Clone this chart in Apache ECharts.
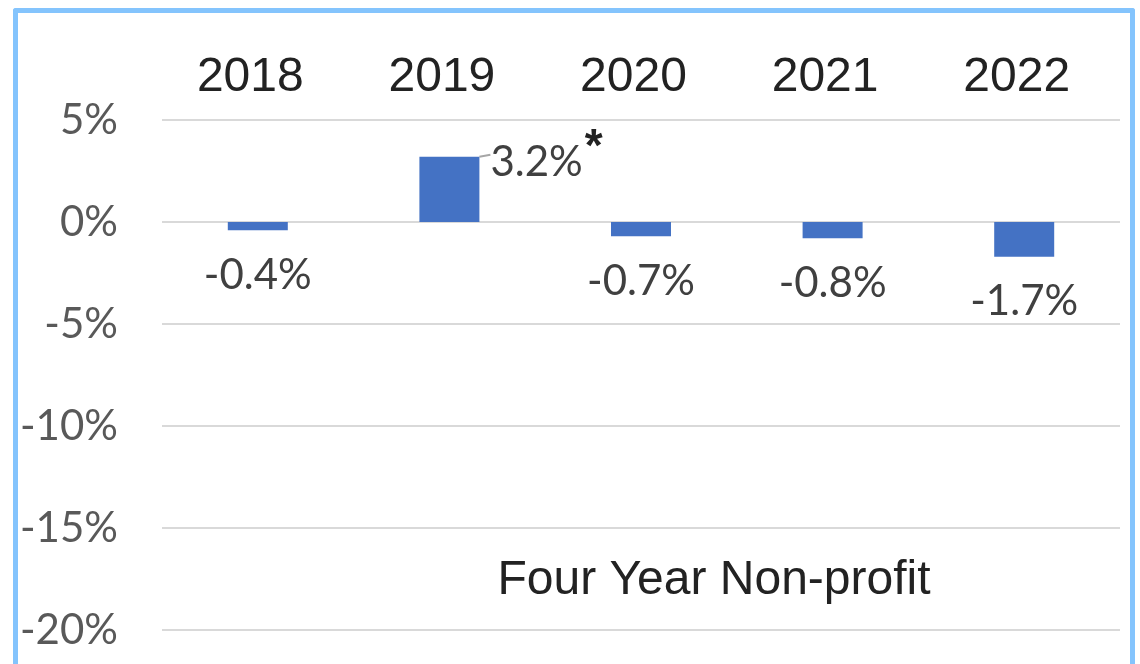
<!DOCTYPE html>
<html>
<head>
<meta charset="utf-8">
<script src="https://cdn.jsdelivr.net/npm/echarts@6/dist/echarts.min.js"></script>
<style>
  html, body { margin: 0; padding: 0; background: #fff; }
  #frame {
    position: absolute; left: 13px; top: 8px; width: 1112px; height: 660px;
    border: 5px solid #84c4fd; border-bottom-color: #d8ecfd; border-radius: 3px;
    pointer-events: none;
  }
  #echarts { position: absolute; left: 0; top: 0; width: 1140px; height: 664px; }
</style>
</head>
<body>
<div id="echarts"></div>
<div id="frame"></div>
<script>
var years = ['2018', '2019', '2020', '2021', '2022']
var changes = [-0.4, 3.2, -0.7, -0.8, -1.7]
var yTicks = [-20, -15, -10, -5, 0, 5]
var title = 'Four Year Non-profit'

var container = document.getElementById('echarts')
var chart = echarts.init(container)

// the one positive bar gets its label to the right, with a leader line and an asterisk
var seriesData = changes.map(function (v) {
    var item = { value: v }
    if (v >= 0) {
        item.label = {
            position: [71, 6],
            verticalAlign: 'middle',
            align: 'left',
            formatter: function (p) { return p.value.toFixed(1) + '%{s|*}' },
            rich: {
                s: { fontSize: 46, color: '#222', fontFamily: 'Liberation Sans', fontWeight: 'bold', verticalAlign: 'top', padding: [0, 0, 28, 2] }
            }
        }
        item.labelLine = { show: true, lineStyle: { color: '#a6a6a6', width: 2 } }
    }
    return item
})

var option = {
    animation: false,
    grid: { left: 162, right: 20, top: 120, bottom: 34 },
    title: {
        text: title,
        left: 709, top: 552,
        textAlign: 'center',
        textStyle: { fontFamily: 'Liberation Sans', fontSize: 48, fontWeight: 'normal', color: '#222' }
    },
    xAxis: {
        type: 'category',
        position: 'top',
        data: years,
        axisLine: { show: false },
        axisTick: { show: false },
        axisLabel: { fontFamily: 'Liberation Sans', fontSize: 48, color: '#222', margin: 18, padding: [0, 15, 0, 0] }
    },
    yAxis: {
        type: 'value',
        min: yTicks[0],
        max: yTicks[yTicks.length - 1],
        interval: 5,
        axisLine: { show: false },
        axisTick: { show: false },
        splitLine: { lineStyle: { color: '#d9d9d9', width: 2 } },
        axisLabel: {
            fontFamily: 'Lato', fontSize: 42, color: '#595959', margin: 44,
            formatter: function (v) { return v + '%' }
        }
    },
    series: [{
        type: 'bar',
        data: seriesData,
        barWidth: 60,
        itemStyle: { color: '#4472c4' },
        label: {
            show: true,
            position: 'bottom',
            distance: 24,
            fontFamily: 'Lato', fontSize: 42, color: '#404040',
            formatter: function (p) { return p.value.toFixed(1) + '%' }
        },
        labelLine: { show: false }
    }]
}

chart.setOption(option)
</script>
</body>
</html>
